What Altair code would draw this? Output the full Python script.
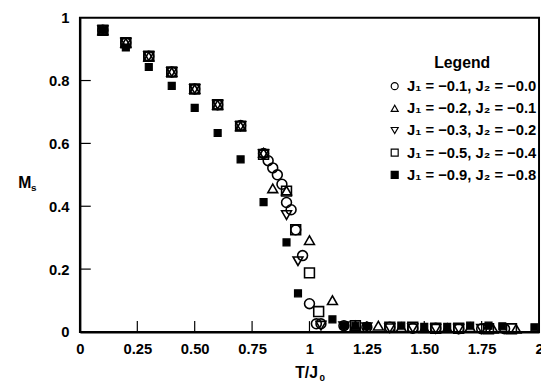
import altair as alt
import pandas as pd

FONT = "Liberation Sans"

series_labels = [
    "J\u2081 = \u22120.1, J\u2082 = \u22120.0",
    "J\u2081 = \u22120.2, J\u2082 = \u22120.1",
    "J\u2081 = \u22120.3, J\u2082 = \u22120.2",
    "J\u2081 = \u22120.5, J\u2082 = \u22120.4",
    "J\u2081 = \u22120.9, J\u2082 = \u22120.8",
]
shapes = ["circle", "triangle-up", "triangle-down", "square", "square"]
fills = ["transparent", "transparent", "transparent", "transparent", "black"]

# series 1: J1=-0.1
x1 = [0.1, 0.2, 0.3, 0.4, 0.5, 0.6, 0.7, 0.8, 0.82, 0.84, 0.86, 0.88, 0.9, 0.92, 0.94, 0.97, 1.0, 1.03, 1.05,
      1.15, 1.25, 1.35, 1.45, 1.55, 1.65, 1.75, 1.85]
y1 = [0.96, 0.92, 0.877, 0.827, 0.773, 0.723, 0.657, 0.568, 0.545, 0.522, 0.5, 0.47, 0.412, 0.389, 0.325, 0.243,
      0.09, 0.026, 0.026, 0.02, 0.015, 0.015, 0.012, 0.012, 0.01, 0.01, 0.01]
# series 2: J1=-0.2
x2 = [0.1, 0.2, 0.3, 0.4, 0.5, 0.6, 0.7, 0.8, 0.84, 0.9, 1.0, 1.1, 1.2, 1.3, 1.4, 1.5, 1.6, 1.7, 1.8, 1.9]
y2 = [0.96, 0.92, 0.877, 0.827, 0.773, 0.723, 0.655, 0.57, 0.457, 0.45, 0.292, 0.101, 0.02, 0.02, 0.015, 0.012,
      0.012, 0.015, 0.01, 0.01]
# series 3: J1=-0.3
x3 = [0.1, 0.2, 0.3, 0.4, 0.5, 0.6, 0.7, 0.8, 0.9, 0.95, 1.05, 1.15, 1.25, 1.35, 1.45, 1.55, 1.65, 1.75]
y3 = [0.96, 0.92, 0.877, 0.827, 0.773, 0.723, 0.655, 0.565, 0.372, 0.225, 0.02, 0.018, 0.015, 0.012, 0.012,
      0.01, 0.01, 0.01]
# series 4: J1=-0.5
x4 = [0.1, 0.2, 0.3, 0.4, 0.5, 0.6, 0.7, 0.8, 0.9, 0.94, 1.0, 1.04, 1.2, 1.35, 1.45, 1.55, 1.65, 1.78, 1.88]
y4 = [0.96, 0.92, 0.877, 0.827, 0.773, 0.723, 0.655, 0.565, 0.448, 0.325, 0.188, 0.065, 0.02, 0.015, 0.015,
      0.012, 0.012, 0.01, 0.01]
# series 5: J1=-0.9
x5 = [0.1, 0.2, 0.3, 0.4, 0.5, 0.6, 0.7, 0.8, 0.9, 0.95, 1.1, 1.15, 1.2, 1.25, 1.4, 1.5, 1.6, 1.7, 1.78, 1.84, 1.98]
y5 = [0.96, 0.905, 0.843, 0.783, 0.713, 0.633, 0.549, 0.413, 0.285, 0.123, 0.04, 0.02, 0.02, 0.018, 0.02, 0.016,
      0.016, 0.02, 0.02, 0.018, 0.015]

x_ticks = [0.25, 0.5, 0.75, 1.0, 1.25, 1.5, 1.75]
y_ticks = [0.2, 0.4, 0.6, 0.8]

rows = []
for i, (lab, xs, ys) in enumerate(zip(series_labels, [x1, x2, x3, x4, x5], [y1, y2, y3, y4, y5])):
    for a, b in zip(xs, ys):
        rows.append({"T": a, "M": b, "series": lab, "filled": i == 4})
df = pd.DataFrame(rows)

W, H = 466, 319

xscale = alt.Scale(domain=[0, 2], nice=False, zero=False)
yscale = alt.Scale(domain=[0, 1], nice=False, zero=False)

x_label_expr = ("datum.value == 0 ? '0' : datum.value == 1 ? '1' : datum.value == 2 ? '2' : "
                "format(datum.value, '.2f')")
y_label_expr = ("datum.value == 0 ? '0' : datum.value == 1 ? '1' : format(datum.value, '.1f')")

xenc = alt.X("T:Q", scale=xscale,
             axis=alt.Axis(values=[0, 0.25, 0.5, 0.75, 1, 1.25, 1.5, 1.75, 2], labelExpr=x_label_expr,
                           title=None, tickSize=0, grid=False, labelPadding=10, domainWidth=2,
                           domainColor="black", labelFont=FONT, labelFontSize=15, labelFontWeight="bold",
                           labelColor="black", labelFlush=False, labelOverlap=False))
yenc = alt.Y("M:Q", scale=yscale,
             axis=alt.Axis(values=[0, 0.2, 0.4, 0.6, 0.8, 1], labelExpr=y_label_expr, title=None,
                           tickSize=0, grid=False,
                           labelPadding=11, domainWidth=2, domainColor="black", labelFont=FONT,
                           labelFontSize=15, labelFontWeight="bold", labelColor="black", labelFlush=False))
shape_enc = alt.Shape("series:N", scale=alt.Scale(domain=series_labels, range=shapes), title="Legend")
fill_enc = alt.Fill("series:N", scale=alt.Scale(domain=series_labels, range=fills), title="Legend")

base = alt.Chart(df).encode(x=xenc, y=yenc, shape=shape_enc, fill=fill_enc, stroke=alt.value("black"))

open_pts = base.transform_filter("!datum.filled").mark_point(size=100, strokeWidth=1.6, opacity=1)
filled_pts = base.transform_filter("datum.filled").mark_point(size=50, strokeWidth=1.2, opacity=1)

xt = alt.Chart(pd.DataFrame({"v": x_ticks})).mark_rule(color="black", strokeWidth=1.2).encode(
    x=alt.X("v:Q", scale=xscale), y=alt.value(H), y2=alt.value(H - 11))
yt = alt.Chart(pd.DataFrame({"v": y_ticks})).mark_rule(color="black", strokeWidth=1.2).encode(
    y=alt.Y("v:Q", scale=yscale), x=alt.value(0), x2=alt.value(11))


def txt(s, x, y, size, align="center"):
    return alt.Chart(pd.DataFrame({"t": [s]})).mark_text(
        font=FONT, fontSize=size, fontWeight="bold", color="black", align=align, baseline="middle"
    ).encode(text="t:N", x=alt.value(x), y=alt.value(y))


titles = [
    txt("M", -56, 168, 16),
    txt("s", -47, 173, 10),
    txt("T/J", 230, 361, 16),
    txt("0", 246, 366, 10),
]

chart = alt.layer(open_pts, filled_pts, xt, yt, *titles).properties(
    width=W, height=H,
    autosize=alt.AutoSizeParams(type="none"),
    padding={"left": 73, "top": 7, "right": 2, "bottom": 50},
).configure_view(stroke="black", strokeWidth=2).configure_legend(
    orient="none", legendX=312, legendY=38, padding=0,
    titleFont=FONT, titleFontSize=16, titleFontWeight="bold", titleColor="black",
    titleAnchor="middle", titleAlign="center", titlePadding=8,
    labelFont=FONT, labelFontSize=15, labelFontWeight="bold", labelColor="black",
    labelLimit=300, symbolSize=50, symbolStrokeWidth=1.2, rowPadding=6.5, labelOffset=5,
)

chart.save("out.html", embed_options={"renderer": "svg", "actions": False})
